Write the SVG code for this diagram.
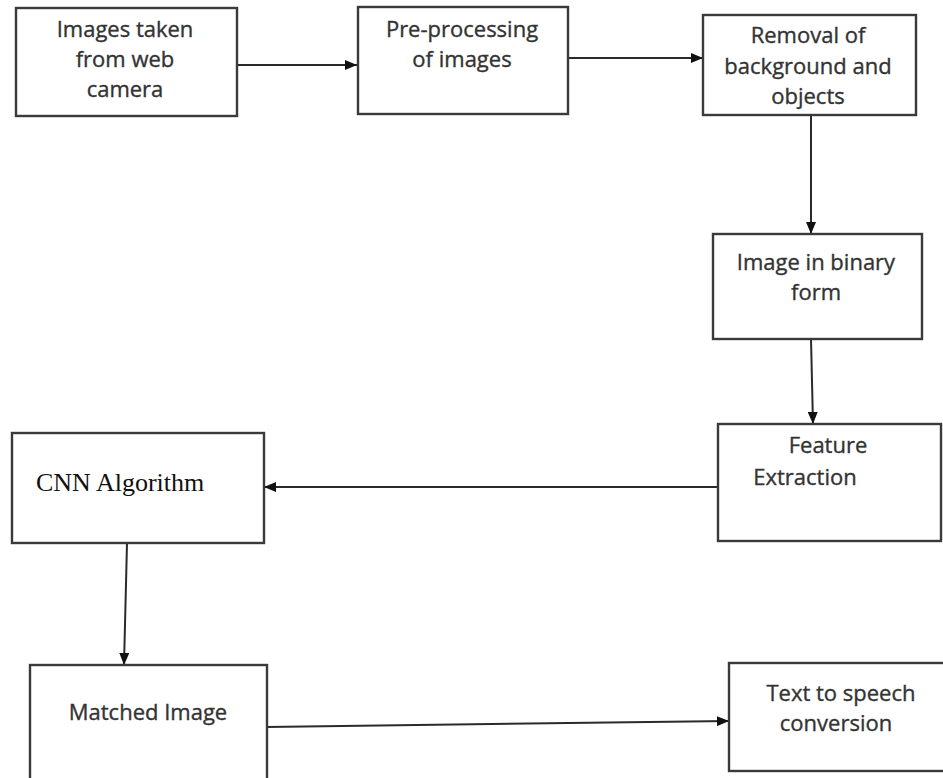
<svg xmlns="http://www.w3.org/2000/svg" width="943" height="778" viewBox="0 0 943 778">
<defs>
<style>
.box{fill:#fff;stroke:#3a3a3a;stroke-width:2.4}
.t{font-family:"Open Sans","DejaVu Sans",sans-serif;font-size:22px;fill:#333;stroke:#333;stroke-width:0.35;text-anchor:middle}
.s{font-family:"Liberation Serif","Times New Roman",serif;font-size:26px;fill:#111}
.c{stroke:#2a2a2a;stroke-width:2;fill:none;marker-end:url(#ah)}
</style>
<marker id="ah" viewBox="0 0 12 10" refX="12" refY="5" markerWidth="12" markerHeight="10" markerUnits="userSpaceOnUse" orient="auto">
<path d="M0,0 L12,5 L0,10 z" fill="#111"/>
</marker>
</defs>
<rect width="943" height="778" fill="#fff"/>
<g id="connectors">
<line class="c" x1="237" y1="65" x2="357" y2="65"/>
<line class="c" x1="568" y1="58" x2="703" y2="58"/>
<line class="c" x1="811" y1="115" x2="811" y2="234"/>
<line class="c" x1="811" y1="339" x2="813" y2="424"/>
<line class="c" x1="718" y1="487" x2="264" y2="487"/>
<line class="c" x1="127" y1="543" x2="124" y2="665"/>
<line class="c" x1="267" y1="727" x2="729" y2="721"/>
</g>
<g id="n1">
<rect class="box" x="16" y="8" width="221" height="108"/>
<text class="t" x="125" y="37">Images taken</text>
<text class="t" x="125" y="67">from web</text>
<text class="t" x="125" y="97">camera</text>
</g>
<g id="n2">
<rect class="box" x="358" y="7" width="210" height="107"/>
<text class="t" x="462" y="37">Pre-processing</text>
<text class="t" x="462" y="67">of images</text>
</g>
<g id="n3">
<rect class="box" x="703" y="15" width="213" height="100"/>
<text class="t" x="808" y="43">Removal of</text>
<text class="t" x="808" y="74">background and</text>
<text class="t" x="808" y="104">objects</text>
</g>
<g id="n4">
<rect class="box" x="713" y="234" width="209" height="105"/>
<text class="t" x="816" y="270">Image in binary</text>
<text class="t" x="816" y="300">form</text>
</g>
<g id="n5">
<rect class="box" x="718" y="424" width="223" height="117"/>
<text class="t" x="828" y="453">Feature</text>
<text class="t" x="805" y="485">Extraction</text>
</g>
<g id="n6">
<rect class="box" x="12" y="433" width="252" height="110"/>
<text class="s" x="36" y="491">CNN Algorithm</text>
</g>
<g id="n7">
<rect class="box" x="30" y="665" width="237" height="130"/>
<text class="t" x="148" y="720">Matched Image</text>
</g>
<g id="n8">
<rect class="box" x="729" y="663" width="240" height="108"/>
<text class="t" x="841" y="701">Text to speech</text>
<text class="t" x="836" y="731">conversion</text>
</g>
</svg>
